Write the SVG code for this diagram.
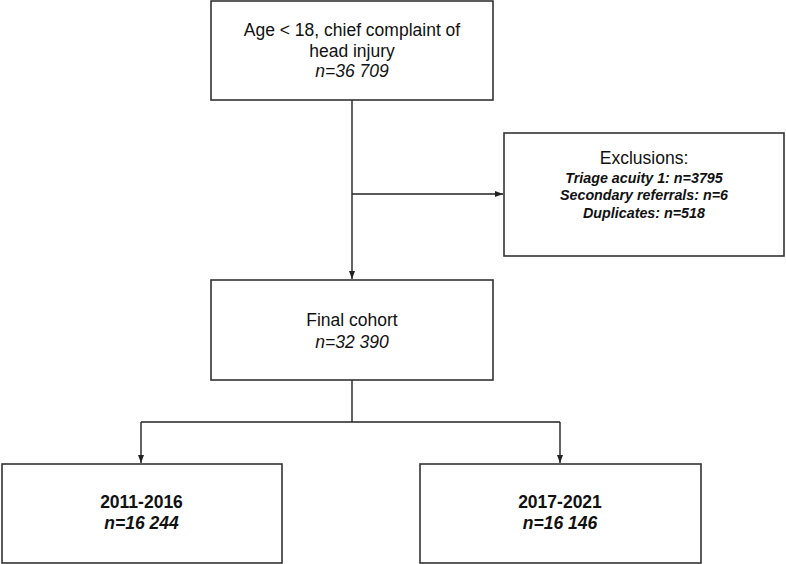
<svg xmlns="http://www.w3.org/2000/svg" width="786" height="564" viewBox="0 0 786 564">
  <defs>
    <marker id="arrow" viewBox="0 0 8 8" refX="8" refY="4" markerWidth="8" markerHeight="8" markerUnits="userSpaceOnUse" orient="auto">
      <path d="M0,1 L8,4 L0,7 Z" fill="#222"/>
    </marker>
    <style>
      .box { fill: #fff; stroke: #333; stroke-width: 1.6; }
      .link { fill: none; stroke: #222; stroke-width: 1.4; }
      text { font-family: "Liberation Sans", Arial, sans-serif; fill: #111; text-anchor: middle; }
      .t { font-size: 17.5px; }
      .n { font-size: 17.5px; font-style: italic; }
      .ex { font-size: 14.3px; font-style: italic; font-weight: bold; }
      .tb { font-size: 17.5px; font-weight: bold; }
      .nb { font-size: 17.5px; font-weight: bold; font-style: italic; }
    </style>
  </defs>
  <rect width="786" height="564" fill="#fff"/>

  <g id="connectors">
    <line class="link" x1="352" y1="100" x2="352" y2="279" marker-end="url(#arrow)"/>
    <line class="link" x1="352" y1="194" x2="503" y2="194" marker-end="url(#arrow)"/>
    <line class="link" x1="352" y1="380" x2="352" y2="422"/>
    <line class="link" x1="141" y1="422" x2="560" y2="422"/>
    <line class="link" x1="141" y1="422" x2="141" y2="463" marker-end="url(#arrow)"/>
    <line class="link" x1="560" y1="422" x2="560" y2="463" marker-end="url(#arrow)"/>
  </g>

  <g id="start">
    <rect class="box" x="211" y="1" width="282" height="99"/>
    <text class="t" x="352" y="36">Age &lt; 18, chief complaint of</text>
    <text class="t" x="352" y="57">head injury</text>
    <text class="n" x="352" y="77">n=36 709</text>
  </g>

  <g id="exclusions">
    <rect class="box" x="504" y="133" width="280" height="123"/>
    <text class="t" x="644" y="164">Exclusions:</text>
    <text class="ex" x="644" y="183">Triage acuity 1: n=3795</text>
    <text class="ex" x="644" y="200">Secondary referrals: n=6</text>
    <text class="ex" x="644" y="218">Duplicates: n=518</text>
  </g>

  <g id="final">
    <rect class="box" x="211" y="280" width="282" height="100"/>
    <text class="t" x="352" y="326">Final cohort</text>
    <text class="n" x="352" y="348">n=32 390</text>
  </g>

  <g id="period1">
    <rect class="box" x="2" y="464" width="280" height="99"/>
    <text class="tb" x="141.5" y="508">2011-2016</text>
    <text class="nb" x="141.5" y="529">n=16 244</text>
  </g>

  <g id="period2">
    <rect class="box" x="420" y="464" width="281" height="99"/>
    <text class="tb" x="560" y="508">2017-2021</text>
    <text class="nb" x="560" y="529">n=16 146</text>
  </g>
</svg>
